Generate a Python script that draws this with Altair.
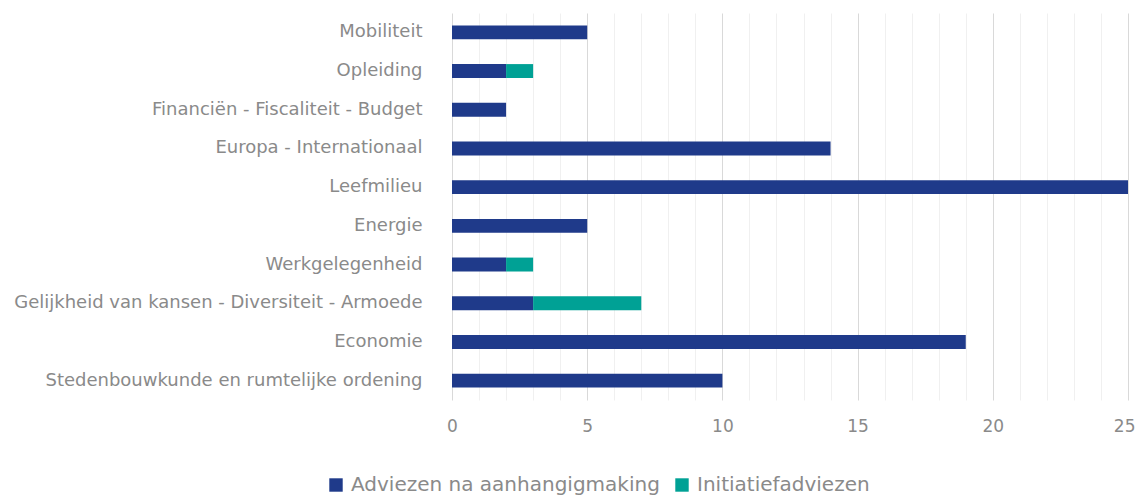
import altair as alt
import pandas as pd

categories = [
    "Mobiliteit",
    "Opleiding",
    "Financiën - Fiscaliteit - Budget",
    "Europa - Internationaal",
    "Leefmilieu",
    "Energie",
    "Werkgelegenheid",
    "Gelijkheid van kansen - Diversiteit - Armoede",
    "Economie",
    "Stedenbouwkunde en rumtelijke ordening",
]
adviezen = [5, 2, 2, 14, 25, 5, 2, 3, 19, 10]
initiatief = [0, 1, 0, 0, 0, 0, 1, 4, 0, 0]
series = ["Adviezen na aanhangigmaking", "Initiatiefadviezen"]
colors = ["#1f3a8a", "#00a195"]

rows = []
for c, a, i in zip(categories, adviezen, initiatief):
    rows.append({"cat": c, "serie": series[0], "val": a, "order": 0})
    rows.append({"cat": c, "serie": series[1], "val": i, "order": 1})
df = pd.DataFrame(rows)

FONT = "DejaVu Sans"
GREY = "#8a8a8a"

chart = alt.Chart(df).mark_bar().encode(
    y=alt.Y("cat:N", sort=categories, title=None,
            scale=alt.Scale(paddingInner=0.64, paddingOuter=0.32),
            axis=alt.Axis(ticks=False, domain=False, labelPadding=30,
                          labelFontSize=18, labelColor=GREY, labelFont=FONT,
                          labelFontWeight="normal", labelLimit=500)),
    x=alt.X("val:Q", stack="zero", title=None,
            scale=alt.Scale(domain=[0, 25], nice=False),
            axis=alt.Axis(values=list(range(26)), ticks=False, domain=False,
                          labelExpr="datum.value % 5 === 0 ? datum.label : ''",
                          labelFlush=False,
                          labelAlign={"condition": {"test": "datum.value === 25", "value": "right"},
                                      "value": "center"},
                          labelOffset={"condition": {"test": "datum.value === 25", "value": 7},
                                       "value": 0},
                          labelPadding=18, labelFontSize=17, labelColor=GREY,
                          labelFont=FONT, labelFontWeight="normal",
                          gridColor={"condition": {"test": "datum.value % 5 === 0", "value": "#d9d9d9"},
                                     "value": "#f0f0f0"},
                          gridWidth=1)),
    color=alt.Color("serie:N", sort=series,
                    scale=alt.Scale(domain=series, range=colors),
                    legend=alt.Legend(title=None, orient="none", direction="horizontal",
                                      legendX=-126, legendY=462,
                                      symbolType="square", symbolSize=180,
                                      symbolStrokeWidth=0,
                                      labelFontSize=20, labelColor=GREY, labelFont=FONT,
                                      labelFontWeight="normal",
                                      columnPadding=12, labelOffset=5, labelLimit=500)),
    order=alt.Order("order:Q"),
).properties(
    width=676, height=387,
    autosize=alt.AutoSizeParams(type="none"),
    padding={"left": 444, "top": 5, "right": 7, "bottom": 96},
).configure_view(stroke=None)

chart.save("out.html", embed_options={"renderer": "svg", "actions": False})
